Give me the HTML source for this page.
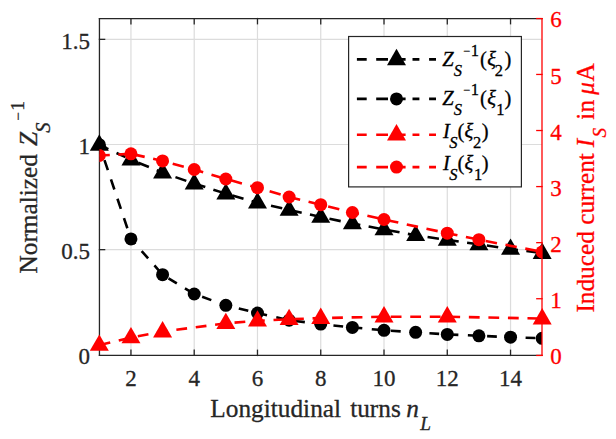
<!DOCTYPE html>
<html><head><meta charset="utf-8"><title>chart</title>
<style>html,body{margin:0;padding:0;background:#fff;}svg{display:block;}.ta text{stroke:#262626;stroke-width:0.3px}.tr text{stroke:#ff0000;stroke-width:0.3px}.tk text{stroke:#000;stroke-width:0.3px}</style>
</head><body>
<svg width="616" height="439" viewBox="0 0 616 439" font-family="'Liberation Serif', serif">
<defs><clipPath id="pc"><rect x="99.45" y="18.55" width="442.55" height="336.90"/></clipPath></defs>
<rect width="616" height="439" fill="#fff"/>
<g stroke="#dcdcdc" stroke-width="1.2"><line x1="130.95" y1="18.55" x2="130.95" y2="355.45"/><line x1="194.21" y1="18.55" x2="194.21" y2="355.45"/><line x1="257.48" y1="18.55" x2="257.48" y2="355.45"/><line x1="320.74" y1="18.55" x2="320.74" y2="355.45"/><line x1="384.01" y1="18.55" x2="384.01" y2="355.45"/><line x1="447.28" y1="18.55" x2="447.28" y2="355.45"/><line x1="510.54" y1="18.55" x2="510.54" y2="355.45"/><line x1="99.45" y1="249.65" x2="542.0" y2="249.65"/><line x1="99.45" y1="144.50" x2="542.0" y2="144.50"/><line x1="99.45" y1="39.35" x2="542.0" y2="39.35"/></g>
<g stroke="#262626" stroke-width="1.3" stroke-linecap="square"><line x1="99.45" y1="18.55" x2="542.0" y2="18.55"/><line x1="99.45" y1="355.45" x2="542.0" y2="355.45"/><line x1="99.45" y1="18.55" x2="99.45" y2="355.45"/><line x1="130.95" y1="355.45" x2="130.95" y2="350.25"/><line x1="130.95" y1="18.55" x2="130.95" y2="23.75"/><line x1="194.21" y1="355.45" x2="194.21" y2="350.25"/><line x1="194.21" y1="18.55" x2="194.21" y2="23.75"/><line x1="257.48" y1="355.45" x2="257.48" y2="350.25"/><line x1="257.48" y1="18.55" x2="257.48" y2="23.75"/><line x1="320.74" y1="355.45" x2="320.74" y2="350.25"/><line x1="320.74" y1="18.55" x2="320.74" y2="23.75"/><line x1="384.01" y1="355.45" x2="384.01" y2="350.25"/><line x1="384.01" y1="18.55" x2="384.01" y2="23.75"/><line x1="447.28" y1="355.45" x2="447.28" y2="350.25"/><line x1="447.28" y1="18.55" x2="447.28" y2="23.75"/><line x1="510.54" y1="355.45" x2="510.54" y2="350.25"/><line x1="510.54" y1="18.55" x2="510.54" y2="23.75"/><line x1="99.45" y1="249.65" x2="104.65" y2="249.65"/><line x1="99.45" y1="144.50" x2="104.65" y2="144.50"/><line x1="99.45" y1="39.35" x2="104.65" y2="39.35"/></g>
<path d="M99.31 144.90L130.95 159.70" fill="none" stroke="#000" stroke-width="2.6" stroke-dasharray="10 9" stroke-dashoffset="0" clip-path="url(#pc)"/><polyline points="130.95,159.70 162.58,172.70 194.21,183.60 225.84,193.60 257.48,202.70 289.11,209.90 320.74,217.00 352.38,223.50 384.01,229.50 415.64,235.30 447.28,239.90 478.91,244.40 510.54,249.00 542.17,253.10" fill="none" stroke="#000" stroke-width="2.6" stroke-dasharray="11.5 8.46" stroke-dashoffset="12.06" clip-path="url(#pc)"/><path d="M99.31 134.30L108.81 150.70L89.81 150.70Z" fill="#000"/><path d="M130.95 149.10L140.45 165.50L121.45 165.50Z" fill="#000"/><path d="M162.58 162.10L172.08 178.50L153.08 178.50Z" fill="#000"/><path d="M194.21 173.00L203.71 189.40L184.71 189.40Z" fill="#000"/><path d="M225.84 183.00L235.34 199.40L216.34 199.40Z" fill="#000"/><path d="M257.48 192.10L266.98 208.50L247.98 208.50Z" fill="#000"/><path d="M289.11 199.30L298.61 215.70L279.61 215.70Z" fill="#000"/><path d="M320.74 206.40L330.24 222.80L311.24 222.80Z" fill="#000"/><path d="M352.38 212.90L361.88 229.30L342.88 229.30Z" fill="#000"/><path d="M384.01 218.90L393.51 235.30L374.51 235.30Z" fill="#000"/><path d="M415.64 224.70L425.14 241.10L406.14 241.10Z" fill="#000"/><path d="M447.28 229.30L456.78 245.70L437.78 245.70Z" fill="#000"/><path d="M478.91 233.80L488.41 250.20L469.41 250.20Z" fill="#000"/><path d="M510.54 238.40L520.04 254.80L501.04 254.80Z" fill="#000"/><path d="M542.17 242.50L551.67 258.90L532.67 258.90Z" fill="#000"/><path d="M99.31 144.70L130.95 238.90" fill="none" stroke="#000" stroke-width="2.6" stroke-dasharray="10.7 9.7" stroke-dashoffset="4.2" clip-path="url(#pc)"/><polyline points="130.95,238.90 162.58,274.70 194.21,294.00 225.84,305.30 257.48,313.00 289.11,320.20 320.74,324.10 352.38,327.40 384.01,330.30 415.64,332.30 447.28,334.40 478.91,335.80 510.54,337.20 542.17,338.30" fill="none" stroke="#000" stroke-width="2.6" stroke-dasharray="9.75 9.51" stroke-dashoffset="3.07" clip-path="url(#pc)"/><g clip-path="url(#pc)"><circle cx="99.31" cy="144.70" r="6.5" fill="#000"/><circle cx="130.95" cy="238.90" r="6.5" fill="#000"/><circle cx="162.58" cy="274.70" r="6.5" fill="#000"/><circle cx="194.21" cy="294.00" r="6.5" fill="#000"/><circle cx="225.84" cy="305.30" r="6.5" fill="#000"/><circle cx="257.48" cy="313.00" r="6.5" fill="#000"/><circle cx="289.11" cy="320.20" r="6.5" fill="#000"/><circle cx="320.74" cy="324.10" r="6.5" fill="#000"/><circle cx="352.38" cy="327.40" r="6.5" fill="#000"/><circle cx="384.01" cy="330.30" r="6.5" fill="#000"/><circle cx="415.64" cy="332.30" r="6.5" fill="#000"/><circle cx="447.28" cy="334.40" r="6.5" fill="#000"/><circle cx="478.91" cy="335.80" r="6.5" fill="#000"/><circle cx="510.54" cy="337.20" r="6.5" fill="#000"/><circle cx="542.17" cy="338.30" r="6.5" fill="#000"/></g>
<g stroke="#ff0000" stroke-width="1.3" stroke-linecap="square"><line x1="542.0" y1="18.55" x2="542.0" y2="355.45"/><line x1="542.0" y1="355.45" x2="536.8" y2="355.45"/><line x1="542.0" y1="298.73" x2="536.8" y2="298.73"/><line x1="542.0" y1="242.66" x2="536.8" y2="242.66"/><line x1="542.0" y1="186.59" x2="536.8" y2="186.59"/><line x1="542.0" y1="130.52" x2="536.8" y2="130.52"/><line x1="542.0" y1="74.45" x2="536.8" y2="74.45"/><line x1="542.0" y1="18.55" x2="536.8" y2="18.55"/></g>
<polyline points="99.31,345.00 130.95,337.50 162.58,331.60 225.84,323.30 257.48,320.80 289.11,319.30 320.74,318.10 384.01,316.70 447.28,316.70 542.17,318.60" fill="none" stroke="#ff0000" stroke-width="2.6" stroke-dasharray="10.8 8.74" stroke-dashoffset="19.11" clip-path="url(#pc)"/><path d="M99.31 334.40L108.81 350.80L89.81 350.80Z" fill="#ff0000"/><path d="M130.95 326.90L140.45 343.30L121.45 343.30Z" fill="#ff0000"/><path d="M162.58 321.00L172.08 337.40L153.08 337.40Z" fill="#ff0000"/><path d="M225.84 312.70L235.34 329.10L216.34 329.10Z" fill="#ff0000"/><path d="M257.48 310.20L266.98 326.60L247.98 326.60Z" fill="#ff0000"/><path d="M289.11 308.70L298.61 325.10L279.61 325.10Z" fill="#ff0000"/><path d="M320.74 307.50L330.24 323.90L311.24 323.90Z" fill="#ff0000"/><path d="M384.01 306.10L393.51 322.50L374.51 322.50Z" fill="#ff0000"/><path d="M447.28 306.10L456.78 322.50L437.78 322.50Z" fill="#ff0000"/><path d="M542.17 308.00L551.67 324.40L532.67 324.40Z" fill="#ff0000"/><path d="M99.31 155.50L130.95 153.80" fill="none" stroke="#ff0000" stroke-width="2.6" stroke-dasharray="10.5 8.5" stroke-dashoffset="0" clip-path="url(#pc)"/><polyline points="130.95,153.80 162.58,160.90 194.21,169.50 225.84,179.00 257.48,187.70 289.11,197.00 320.74,204.70 352.38,212.50 384.01,219.50 447.28,233.20 478.91,239.70 542.17,251.90" fill="none" stroke="#ff0000" stroke-width="2.6" stroke-dasharray="11.5 8.66" stroke-dashoffset="17.58" clip-path="url(#pc)"/><g clip-path="url(#pc)"><circle cx="99.31" cy="155.50" r="6.5" fill="#ff0000"/><circle cx="130.95" cy="153.80" r="6.5" fill="#ff0000"/><circle cx="162.58" cy="160.90" r="6.5" fill="#ff0000"/><circle cx="194.21" cy="169.50" r="6.5" fill="#ff0000"/><circle cx="225.84" cy="179.00" r="6.5" fill="#ff0000"/><circle cx="257.48" cy="187.70" r="6.5" fill="#ff0000"/><circle cx="289.11" cy="197.00" r="6.5" fill="#ff0000"/><circle cx="320.74" cy="204.70" r="6.5" fill="#ff0000"/><circle cx="352.38" cy="212.50" r="6.5" fill="#ff0000"/><circle cx="384.01" cy="219.50" r="6.5" fill="#ff0000"/><circle cx="447.28" cy="233.20" r="6.5" fill="#ff0000"/><circle cx="478.91" cy="239.70" r="6.5" fill="#ff0000"/><circle cx="542.17" cy="251.90" r="6.5" fill="#ff0000"/></g>
<g class="ta" fill="#262626" font-size="23"><text transform="translate(89.9 364.00) scale(1 1.035)" text-anchor="end">0</text><text transform="translate(89.9 258.85) scale(1 1.035)" text-anchor="end">0.5</text><text transform="translate(89.9 153.70) scale(1 1.035)" text-anchor="end">1</text><text transform="translate(89.9 48.55) scale(1 1.035)" text-anchor="end">1.5</text><text transform="translate(130.95 385.9) scale(1 1.035)" text-anchor="middle">2</text><text transform="translate(194.21 385.9) scale(1 1.035)" text-anchor="middle">4</text><text transform="translate(257.48 385.9) scale(1 1.035)" text-anchor="middle">6</text><text transform="translate(320.74 385.9) scale(1 1.035)" text-anchor="middle">8</text><text transform="translate(384.01 385.9) scale(1 1.035)" text-anchor="middle">10</text><text transform="translate(447.28 385.9) scale(1 1.035)" text-anchor="middle">12</text><text transform="translate(510.54 385.9) scale(1 1.035)" text-anchor="middle">14</text></g>
<g class="tr" fill="#ff0000" font-size="23"><text transform="translate(550.3 363.85) scale(1 1.035)">0</text><text transform="translate(550.3 307.78) scale(1 1.035)">1</text><text transform="translate(550.3 251.71) scale(1 1.035)">2</text><text transform="translate(550.3 195.64) scale(1 1.035)">3</text><text transform="translate(550.3 139.57) scale(1 1.035)">4</text><text transform="translate(550.3 83.50) scale(1 1.035)">5</text><text transform="translate(550.3 27.43) scale(1 1.035)">6</text></g>
<g class="ta" fill="#262626"><text x="210.37" y="416.60" font-size="25.3">Longitudinal</text><text x="350.15" y="416.60" font-size="25.3">turns</text><text x="406.30" y="416.60" font-size="25.3" font-style="italic">n</text><text x="420.13" y="430.00" font-size="19.3" font-style="italic">L</text></g>
<g class="ta" fill="#262626" transform="translate(36.7,272.8) rotate(-90)"><text x="-0.73" y="0.00" font-size="25.3">Normalized</text><text x="126.89" y="0.00" font-size="25.3" font-style="italic">Z</text><text x="139.96" y="13.20" font-size="20.5" font-style="italic">S</text><text x="152.05" y="-13.90" font-size="15">−</text><text x="162.10" y="-12.60" font-size="19.3">1</text></g>
<g class="tr" fill="#ff0000" transform="translate(593.5,311.7) rotate(-90)"><text x="-0.91" y="0.00" font-size="25.3">Induced current</text><text x="164.40" y="0.00" font-size="25.3" font-style="italic">I</text><text x="174.17" y="12.00" font-size="19.3" font-style="italic">S</text><text x="192.07" y="0.00" font-size="25.3">in</text><text x="216.92" y="0.00" font-size="25.3" font-style="italic">μ</text><text x="230.25" y="0.00" font-size="25.3">A</text></g>
<g class="tk" fill="#000"><rect x="348.6" y="36.5" width="172.8" height="150.4" fill="#fff" stroke="#262626" stroke-width="1.2"/><path d="M356.9 59.4H366.7M376.2 59.4H388.0M400.0 59.4H405.6M412.5 59.4H419.4M429.1 59.4H436.0" stroke="#000" stroke-width="2.6"/><path d="M396.50 48.80L406.00 65.20L387.00 65.20Z" fill="#000"/><path d="M356.9 98.9H366.7M376.2 98.9H388.0M400.0 98.9H405.6M412.5 98.9H419.4M429.1 98.9H436.0" stroke="#000" stroke-width="2.6"/><circle cx="396.5" cy="98.9" r="6.5" fill="#000"/><path d="M356.9 134.7H366.7M376.2 134.7H388.0M400.0 134.7H405.6M412.5 134.7H419.4M429.1 134.7H436.0" stroke="#ff0000" stroke-width="2.6"/><path d="M396.50 124.10L406.00 140.50L387.00 140.50Z" fill="#ff0000"/><path d="M356.9 167.1H366.7M376.2 167.1H388.0M400.0 167.1H405.6M412.5 167.1H419.4M429.1 167.1H436.0" stroke="#ff0000" stroke-width="2.6"/><circle cx="396.5" cy="167.1" r="6.5" fill="#ff0000"/><text x="442.15" y="65.60" font-size="20.5" font-style="italic">Z</text><text x="453.81" y="75.60" font-size="16.5" font-style="italic">S</text><text x="463.50" y="54.50" font-size="12">−</text><text x="470.85" y="55.70" font-size="16.5">1</text><text x="479.90" y="65.60" font-size="20.5">(</text><text x="487.30" y="65.60" font-size="20.5" font-style="italic">ξ</text><text x="494.87" y="75.60" font-size="16.5">2</text><text x="504.54" y="65.60" font-size="20.5">)</text><text x="442.15" y="104.70" font-size="20.5" font-style="italic">Z</text><text x="453.81" y="114.70" font-size="16.5" font-style="italic">S</text><text x="463.50" y="93.60" font-size="12">−</text><text x="470.85" y="94.80" font-size="16.5">1</text><text x="479.90" y="104.70" font-size="20.5">(</text><text x="487.30" y="104.70" font-size="20.5" font-style="italic">ξ</text><text x="496.35" y="114.70" font-size="16.5">1</text><text x="504.54" y="104.70" font-size="20.5">)</text><text x="442.88" y="137.50" font-size="20.5" font-style="italic">I</text><text x="449.31" y="147.60" font-size="16.5" font-style="italic">S</text><text x="457.40" y="137.50" font-size="20.5">(</text><text x="464.60" y="137.50" font-size="20.5" font-style="italic">ξ</text><text x="472.97" y="147.60" font-size="16.5">2</text><text x="481.74" y="137.50" font-size="20.5">)</text><text x="442.88" y="170.20" font-size="20.5" font-style="italic">I</text><text x="449.31" y="180.30" font-size="16.5" font-style="italic">S</text><text x="457.40" y="170.20" font-size="20.5">(</text><text x="464.60" y="170.20" font-size="20.5" font-style="italic">ξ</text><text x="473.95" y="180.30" font-size="16.5">1</text><text x="481.74" y="170.20" font-size="20.5">)</text></g>
</svg>
</body></html>
